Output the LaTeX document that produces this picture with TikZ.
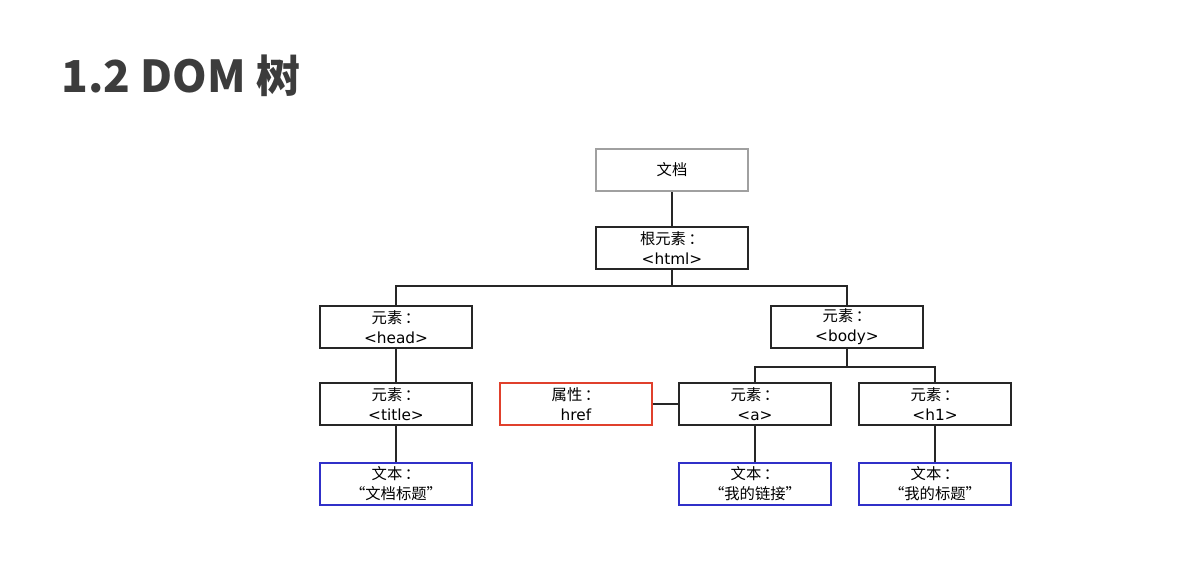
\documentclass[tikz,border=0pt]{standalone}
\usepackage{fontspec}
\setmainfont{DejaVu Sans}
\newfontfamily\cjk{Noto Sans CJK SC}
\usepackage{tikz}
\definecolor{titlegray}{HTML}{3C3C3C}
\definecolor{docgray}{HTML}{A0A0A0}
\definecolor{attrred}{HTML}{E0402C}
\definecolor{textblue}{HTML}{3030C8}
\tikzset{
    box/.style={rectangle, draw=black!85, line width=1.3pt, minimum width=114pt, minimum height=32pt,
        inner sep=0pt, align=center, font=\cjk\fontsize{11.5}{15}\selectfont}
}
\tikzset{link/.style={line width=1.2pt, draw=black!85}}
\newcommand{\tag}[1]{{\rmfamily #1}}

\begin{document}
\begin{tikzpicture}[x=0.75pt, y=-0.75pt]
        \useasboundingbox (0,0) rectangle (1177,583);
        \node (heading) [anchor=base west, text=titlegray, font=\cjk\bfseries\fontsize{33}{36}\selectfont] at (57,92) {1.2 DOM 树};
        \node (doc) [box, draw=docgray] at (672, 170) {文档};
        \node (html) [box] at (672, 248) {根元素\,：\\\tag{<html>}};
        \node (head) [box] at (396, 327) {元素\,：\\\tag{<head>}};
        \node (body) [box] at (847, 327) {元素\,：\\\tag{<body>}};
        \node (title) [box] at (396, 404) {元素\,：\\\tag{<title>}};
        \node (href) [box, draw=attrred] at (576, 404) {属性\,：\\\tag{href}};
        \node (a) [box] at (755, 404) {元素\,：\\\tag{<a>}};
        \node (h1) [box] at (935, 404) {元素\,：\\\tag{<h1>}};
        \node (t1) [box, draw=textblue] at (396, 484) {文本\,：\\“文档标题”};
        \node (t2) [box, draw=textblue] at (755, 484) {文本\,：\\“我的链接”};
        \node (t3) [box, draw=textblue] at (935, 484) {文本\,：\\“我的标题”};
        \coordinate (hbus) at (672, 286);
        \coordinate (bbus) at (847, 367);
        \draw [link] (doc) -- (html);
        \draw [link] (html) -- (hbus) -| (head);
        \draw [link] (hbus) -| (body);
        \draw [link] (body) -- (bbus) -| (a);
        \draw [link] (bbus) -| (h1);
        \draw [link] (head) -- (title);
        \draw [link] (title) -- (t1);
        \draw [link] (href) -- (a);
        \draw [link] (a) -- (t2);
        \draw [link] (h1) -- (t3);
\end{tikzpicture}
\end{document}
